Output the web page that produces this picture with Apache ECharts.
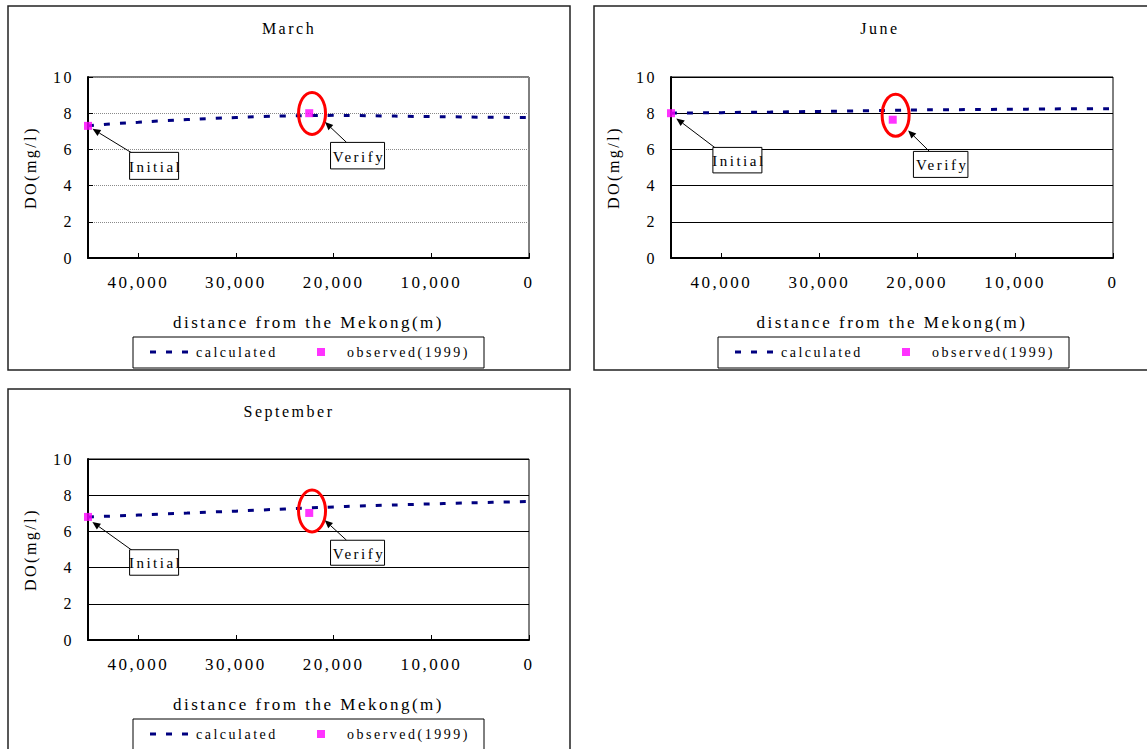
<!DOCTYPE html>
<html>
<head>
<meta charset="utf-8">
<script src="https://cdn.jsdelivr.net/npm/echarts@6/dist/echarts.min.js"></script>
<style>
  html, body { margin: 0; padding: 0; background: #fff; }
  #chart { width: 1147px; height: 749px; }
  #chart text { letter-spacing: 2.5px; }
</style>
</head>
<body>
<div id="chart"></div>
<script>
// Distance axis ticks (m from the Mekong) and their labels
const xTicks = [40000, 30000, 20000, 10000, 0];
const xTickLabels = ['40,000', '30,000', '20,000', '10,000', '0'];
const yTicks = [0, 2, 4, 6, 8, 10];

// Model output: distance (m) and dissolved oxygen (mg/l)
const calcDistance = [45150, 42500, 40000, 37500, 35000, 32500, 30000, 27500, 25000, 22500,
                      20000, 17500, 15000, 12500, 10000, 7500, 5000, 2500, 0];
const marchCalc = [7.30, 7.42, 7.50, 7.58, 7.65, 7.71, 7.76, 7.81, 7.85, 7.87,
                   7.88, 7.87, 7.85, 7.83, 7.81, 7.80, 7.78, 7.77, 7.76];
const juneCalc  = [8.00, 8.02, 8.03, 8.05, 8.06, 8.08, 8.10, 8.12, 8.14, 8.16,
                   8.18, 8.19, 8.20, 8.21, 8.22, 8.23, 8.24, 8.24, 8.25];
const sepCalc   = [6.80, 6.85, 6.90, 6.96, 7.01, 7.07, 7.12, 7.18, 7.24, 7.30,
                   7.35, 7.40, 7.44, 7.48, 7.52, 7.56, 7.59, 7.62, 7.65];

// Field measurements (1999): initial station and verification station
const obsDistance = [45150, 22500];
const marchObs = [7.30, 8.00];
const juneObs  = [8.00, 7.64];
const sepObs   = [6.80, 7.02];

const months = ['March', 'June', 'September'];
const calcSeries = [marchCalc, juneCalc, sepCalc];
const obsSeries = [marchObs, juneObs, sepObs];

const FONT = 'Liberation Serif, Times New Roman, serif';
const NAVY = '#000080';
const MAGENTA = '#ff00ff';

// Panel layout
const panels = [
  { frame: [8, 6, 562, 364], grid: [88, 77, 441, 181], title: [289, 20], legend: [133, 337, 351, 31],
    splitLine: { color: '#8a8a8a', type: [1, 1], width: 1 },
    ann: { initBox: [41.6, 26.5, 49, 27], initHead: [4.5, 3],
           ell: [2.8, 0.2], verBox: [21.3, 29.2, 54, 26.5], verHead: [15.8, 8.9] } },
  { frame: [594, 6, 620, 364], grid: [671, 77, 442, 181], title: [880, 20], legend: [718, 337, 351, 31],
    splitLine: { color: '#000', type: 'solid', width: 1 },
    ann: { initBox: [41.9, 34.2, 49, 25.5], initHead: [5.3, 5.2],
           ell: [2.9, -4.5], verBox: [20.7, 31.7, 54.5, 26], verHead: [15.4, 10.7] } },
  { frame: [8, 389, 562, 400], grid: [88, 459, 441, 181], title: [289, 403], legend: [133, 719, 351, 31],
    splitLine: { color: '#000', type: 'solid', width: 1 },
    ann: { initBox: [41.6, 32.8, 49, 25.5], initHead: [4.4, 5],
           ell: [2.8, -2], verBox: [21.3, 27.3, 54, 25], verHead: [15.5, 7.3] } }
];

const textStyle = { fontFamily: FONT, fontSize: 16, color: '#000', fontWeight: 'normal' };

// Three short dashes, used as the legend key of the model line
const DASH_ICON = 'path://M0,0h6v3h-6z M16,0h6v3h-6z M32,0h6v3h-6z';

const option = {
  animation: false,
  backgroundColor: '#fff',
  textStyle: { fontFamily: FONT },
  title: [], grid: [], xAxis: [], yAxis: [], legend: [], series: [],
  graphic: []
};

panels.forEach((p, i) => {
  option.graphic.push({
    type: 'rect', silent: true, z: 0,
    shape: { x: p.frame[0], y: p.frame[1], width: p.frame[2], height: p.frame[3] },
    style: { fill: 'none', stroke: '#222', lineWidth: 1.5 }
  });
  option.graphic.push({
    type: 'rect', silent: true, z: 0,
    shape: { x: p.legend[0], y: p.legend[1], width: p.legend[2], height: p.legend[3] },
    style: { fill: 'none', stroke: '#000', lineWidth: 1 }
  });

  option.title.push({
    text: months[i], left: p.title[0], top: p.title[1], textAlign: 'center', padding: 0,
    textStyle: Object.assign({}, textStyle)
  });

  option.grid.push({
    left: p.grid[0], top: p.grid[1], width: p.grid[2], height: p.grid[3],
    show: true, borderColor: '#000', borderWidth: 1, backgroundColor: 'transparent',
    containLabel: false, outerBoundsMode: 'none'
  });

  option.xAxis.push({
    gridIndex: i, type: 'value', inverse: true,
    min: 0, max: calcDistance[0], interval: 10000,
    name: 'distance from the Mekong(m)', nameLocation: 'middle', nameGap: 56,
    nameTextStyle: Object.assign({}, textStyle, { fontSize: 17 }),
    axisLine: { show: true, onZero: false, lineStyle: { color: '#000', width: 2 } },
    axisTick: { show: true, inside: true, length: 5, lineStyle: { color: '#000', width: 1 } },
    axisLabel: {
      margin: 16, fontFamily: FONT, fontSize: 17, color: '#000',
      showMaxLabel: true, showMinLabel: true, hideOverlap: false,
      formatter: v => { const k = xTicks.indexOf(v); return k >= 0 ? xTickLabels[k] : ''; }
    },
    splitLine: { show: false }
  });

  option.yAxis.push({
    gridIndex: i, type: 'value', min: yTicks[0], max: yTicks[yTicks.length - 1], interval: yTicks[1] - yTicks[0],
    name: 'DO(mg/l)', nameLocation: 'middle', nameGap: 50, nameRotate: 90,
    nameTextStyle: Object.assign({}, textStyle),
    axisLine: { show: true, onZero: false, lineStyle: { color: '#000', width: 2 } },
    axisTick: { show: true, inside: true, length: 5, lineStyle: { color: '#000', width: 1 } },
    axisLabel: { margin: 14, fontFamily: FONT, fontSize: 16, color: '#000' },
    splitLine: { show: true, lineStyle: p.splitLine }
  });

  option.series.push({
    type: 'line', name: 'calculated', xAxisIndex: i, yAxisIndex: i,
    data: calcDistance.map((d, j) => [d, calcSeries[i][j]]),
    symbol: 'none', smooth: true, z: 3, silent: true,
    lineStyle: { color: NAVY, width: 3, type: [6, 10], cap: 'butt' },
    itemStyle: { color: NAVY }
  });
  option.series.push({
    type: 'scatter', name: 'observed(1999)', xAxisIndex: i, yAxisIndex: i,
    data: obsDistance.map((d, j) => [d, obsSeries[i][j]]),
    symbol: 'rect', symbolSize: 8, z: 4, silent: true,
    itemStyle: { color: MAGENTA }
  });

  const legendText = Object.assign({}, textStyle, { fontSize: 14 });
  option.legend.push({
    data: ['calculated'], left: p.legend[0] + 17, top: p.legend[1] + 8,
    icon: DASH_ICON, itemWidth: 38, itemHeight: 3, selectedMode: false, padding: 0,
    itemStyle: { color: NAVY, borderWidth: 0 },
    textStyle: Object.assign({}, legendText, { padding: [0, 0, 0, 3] })
  });
  option.legend.push({
    data: ['observed(1999)'], left: p.legend[0] + 184, top: p.legend[1] + 8,
    itemWidth: 8, itemHeight: 8, icon: 'rect', selectedMode: false, padding: 0,
    itemStyle: { color: MAGENTA, borderWidth: 0 },
    textStyle: Object.assign({}, legendText, { padding: [0, 0, 0, 17] })
  });
});

const chart = echarts.init(document.getElementById('chart'), null, { renderer: 'svg', width: 1147, height: 749 });
chart.setOption(option);

// Callouts: "Initial" / "Verify" boxes with arrows, red ring round the verification point
function arrow(tail, head) {
  const dx = head[0] - tail[0], dy = head[1] - tail[1];
  const len = Math.hypot(dx, dy), ux = dx / len, uy = dy / len;
  const L = 8, W = 3.5;
  const bx = head[0] - ux * L, by = head[1] - uy * L;
  return [
    { type: 'line', z: 50, silent: true,
      shape: { x1: tail[0], y1: tail[1], x2: bx, y2: by },
      style: { stroke: '#000', lineWidth: 1 } },
    { type: 'polygon', z: 50, silent: true,
      shape: { points: [head, [bx - uy * W, by + ux * W], [bx + uy * W, by - ux * W]] },
      style: { fill: '#000' } }
  ];
}
function labelBox(x, y, w, h, text) {
  return [
    { type: 'rect', z: 50, silent: true, shape: { x: x, y: y, width: w, height: h },
      style: { fill: '#fff', stroke: '#000', lineWidth: 1 } },
    { type: 'text', z: 51, silent: true, x: x + w / 2 + 1.5, y: y + h / 2 + 1,
      style: { text: text, font: '15px ' + FONT, fill: '#000',
               align: 'center', verticalAlign: 'middle', textAlign: 'center', textVerticalAlign: 'middle' } }
  ];
}

const extra = [];
panels.forEach((p, i) => {
  const a = p.ann;
  const p0 = chart.convertToPixel({ gridIndex: i }, [obsDistance[0], obsSeries[i][0]]);
  const p1 = chart.convertToPixel({ gridIndex: i }, [obsDistance[1], obsSeries[i][1]]);

  const ib = [p0[0] + a.initBox[0], p0[1] + a.initBox[1]];
  extra.push(...arrow([ib[0] + 3, ib[1] + 1], [p0[0] + a.initHead[0], p0[1] + a.initHead[1]]));
  extra.push(...labelBox(ib[0], ib[1], a.initBox[2], a.initBox[3], 'Initial'));

  extra.push({ type: 'ellipse', z: 50, silent: true,
    shape: { cx: p1[0] + a.ell[0], cy: p1[1] + a.ell[1], rx: 13.5, ry: 21 },
    style: { fill: 'none', stroke: '#ff0000', lineWidth: 3 } });
  const vb = [p1[0] + a.verBox[0], p1[1] + a.verBox[1]];
  extra.push(...arrow([vb[0] + 16, vb[1]], [p1[0] + a.verHead[0], p1[1] + a.verHead[1]]));
  extra.push(...labelBox(vb[0], vb[1], a.verBox[2], a.verBox[3], 'Verify'));
});

chart.setOption({ graphic: option.graphic.concat(extra) });
</script>
</body>
</html>
